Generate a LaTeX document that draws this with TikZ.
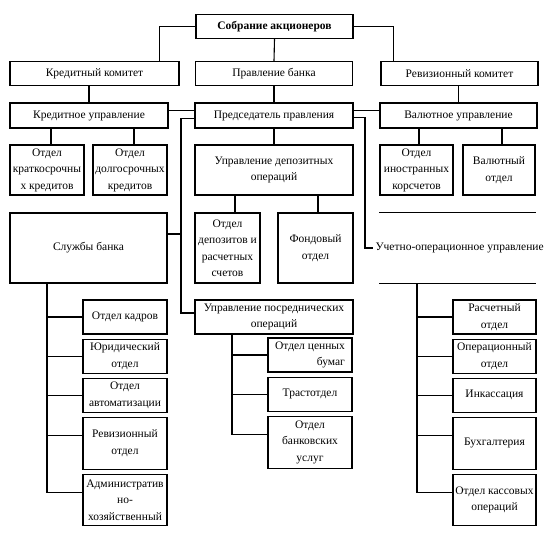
\documentclass[tikz,border=0pt]{standalone}
\usepackage{fontspec}
\setmainfont{Liberation Serif}
\usetikzlibrary{positioning}
\tikzset{
block/.style = {draw, fill=white, rectangle, align=center, inner sep=1pt},
wblock/.style = {block, minimum width=157pt, minimum height=24pt},
dblock/.style = {block, minimum width=74pt, minimum height=50pt},
sblock/.style = {block, minimum width=84pt, minimum height=34pt},
tblock/.style = {block, minimum width=84pt, minimum height=52pt},
tmp/.style = {coordinate}
}
\begin{document}
\begin{tikzpicture}[x=1pt, y=-1pt, line width=1.1pt,
    font=\fontsize{11.5}{16.5}\selectfont]
    \path[use as bounding box, clip] (0,0) rectangle (551,547);
    % We start by placing the blocks
    \node [wblock, font=\fontsize{11.5}{16.5}\selectfont\bfseries] (sobr) at (274.5,26.5) {Собрание акционеров};
    \node [wblock, minimum width=169pt] (kredkom) at (94.5,73.5) {Кредитный комитет};
    \node [wblock] (pravl) at (274,73.5) {Правление банка};
    \node [wblock] (revkom) at (459.5,73.5) {Ревизионный комитет};
    \node [wblock, minimum width=158pt, minimum height=25pt] (kredupr) at (89,115.5) {Кредитное управление};
    \node [wblock, minimum width=158pt, minimum height=25pt] (pred) at (274,115.5) {Председатель правления};
    \node [wblock, minimum height=25pt] (valupr) at (458.5,115.5) {Валютное управление};

    \node [dblock] (okrat) at (47,170) {Отдел\\краткосрочны\\х кредитов};
    \node [dblock] (odolg) at (130,170) {Отдел\\долгосрочных\\кредитов};
    \node [block, minimum width=158pt, minimum height=50pt] (udep) at (274,170) {Управление депозитных\\операций};
    \node [dblock, minimum width=73pt] (oinostr) at (416.5,170) {Отдел\\иностранных\\корсчетов};
    \node [dblock, minimum width=72pt] (valotd) at (499,170) {Валютный\\отдел};

    \node [block, minimum width=157pt, minimum height=70pt] (sluzhby) at (88.5,248) {Службы банка};
    \node [block, minimum width=65pt, minimum height=70pt] (odep) at (227.5,248) {Отдел\\депозитов и\\расчетных\\счетов};
    \node [block, minimum width=75pt, minimum height=70pt] (fond) at (315.5,248) {Фондовый\\отдел};
    \node [minimum width=155pt, minimum height=70pt] (ubox) at (457.5,248) {};
    \node [anchor=west, inner sep=2pt] (uchet) at (373,248) {Учетно-операционное управление};

    % columns
    \node [sblock] (kadry) at (125,317) {Отдел кадров};
    \node [sblock, below=4pt of kadry] (jurid) {Юридический\\отдел};
    \node [sblock, below=4pt of jurid] (avtom) {Отдел\\автоматизации};
    \node [tblock, below=4pt of avtom] (revotd) {Ревизионный\\отдел};
    \node [tblock, minimum height=51pt, below=4pt of revotd] (adm) {Административ\\но-\\хозяйственный};

    \node [sblock, minimum width=158pt] (uposr) at (274,317) {Управление посреднических\\операций};
    \node [sblock, align=right] (ocenn) at (310,355) {Отдел ценных\\бумаг};
    \node [sblock, below=4pt of ocenn] (trast) {Трастотдел};
    \node [tblock, below=4pt of trast] (obank) {Отдел\\банковских\\услуг};

    \node [sblock, minimum width=83pt] (rasch) at (494.5,317) {Расчетный\\отдел};
    \node [sblock, minimum width=83pt, below=4pt of rasch] (oper) {Операционный\\отдел};
    \node [sblock, minimum width=83pt, below=4pt of oper] (inkas) {Инкассация};
    \node [tblock, minimum width=83pt, below=4pt of inkas] (buh) {Бухгалтерия};
    \node [tblock, minimum width=83pt, minimum height=51pt, below=4pt of buh] (kass) {Отдел кассовых\\операций};

    \node [tmp] (tmp1) at (181,200) {};
    \node [tmp] (tmp2) at (365,200) {};

    % Once the nodes are placed, connecting them
    \draw (sobr.west) -| ([xshift=-20pt]kredkom.north east);
    \draw (sobr.east) -| ([xshift=13pt]revkom.north west);
    \draw (sobr.south) -- (pravl.north);
    \draw (kredupr.north) -- (kredupr.north |- kredkom.south);
    \draw (pravl.south) -- (pred.north);
    \draw (valupr.north) -- (valupr.north |- revkom.south);
    \draw ([yshift=5pt]kredupr.east) -- ([yshift=5pt]pred.west);
    \draw ([yshift=5pt]pred.east) -- ([yshift=5pt]valupr.west);
    \draw ([yshift=-3pt]pred.west) -| (tmp1) |- ([yshift=4pt]uposr.west);
    \draw ([yshift=14pt]sluzhby.east) -| (tmp1);
    \draw ([yshift=-2pt]pred.east) -| (tmp2) |- (uchet.west);

    \draw ([xshift=-38pt]kredupr.south) -- ([xshift=4pt]okrat.north);
    \draw ([xshift=45pt]kredupr.south) -- ([xshift=4pt]odolg.north);
    \draw (pred.south) -- (udep.north);
    \draw ([xshift=-39pt]udep.south) -- ([xshift=7.5pt]odep.north);
    \draw ([xshift=44pt]udep.south) -- ([xshift=2.5pt]fond.north);
    \draw ([xshift=-39.5pt]valupr.south) -- ([xshift=2.5pt]oinostr.north);
    \draw ([xshift=43.5pt]valupr.south) -- ([xshift=3pt]valotd.north);

    \draw (ubox.north west) -- (ubox.north east);
    \draw (ubox.south west) -- (ubox.south east);

    \foreach \b in {kadry.west, jurid.west, avtom.west, revotd.170, adm.170}
        \draw (\b) -| ([xshift=-41.5pt]sluzhby.south);
    \foreach \b in {ocenn.west, trast.west, obank.170}
        \draw (\b) -| ([xshift=-42pt]uposr.south);
    \foreach \b in {rasch.west, oper.west, inkas.west, buh.170, kass.170}
        \draw (\b) -| ([xshift=-40.5pt]ubox.south);
\end{tikzpicture}
\end{document}
